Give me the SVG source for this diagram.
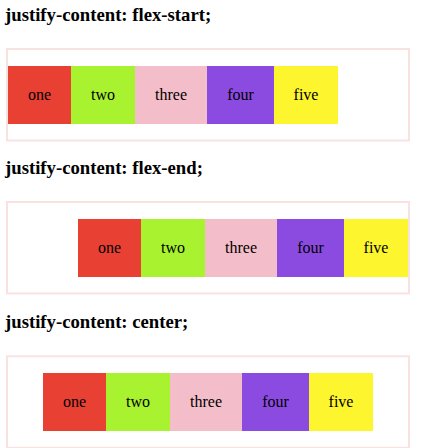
<svg xmlns="http://www.w3.org/2000/svg" width="429" height="448" viewBox="0 0 429 448">
<style>
.h{font-family:"Liberation Serif","Times New Roman",serif;font-weight:bold;font-size:18.72px;fill:#000}
.box{fill:none;stroke:#f9e3e1;stroke-width:2}
.t{font-family:"Liberation Serif","Times New Roman",serif;font-size:16px;fill:#000;text-anchor:middle}
.c1{fill:#e94034}.c2{fill:#a8f22f}.c3{fill:#f3bdc9}.c4{fill:#8c4be0}.c5{fill:#fdf62f}
</style>
<rect width="429" height="448" fill="#fff"/>
<g id="section-flex-start">
<text class="h" x="5" y="21">justify-content: flex-start;</text>
<rect class="box" x="7" y="49" width="402" height="91.5"/>
<g id="fs-one"><rect class="c1" x="8" y="66" width="63" height="58"/><text class="t" x="39.5" y="100">one</text></g>
<g id="fs-two"><rect class="c2" x="71" y="66" width="64" height="58"/><text class="t" x="103" y="100">two</text></g>
<g id="fs-three"><rect class="c3" x="135" y="66" width="72" height="58"/><text class="t" x="171" y="100">three</text></g>
<g id="fs-four"><rect class="c4" x="207" y="66" width="67" height="58"/><text class="t" x="240.5" y="100">four</text></g>
<g id="fs-five"><rect class="c5" x="274" y="66" width="64" height="58"/><text class="t" x="306" y="100">five</text></g>
</g>
<g id="section-flex-end">
<text class="h" x="5" y="174">justify-content: flex-end;</text>
<rect class="box" x="7" y="202" width="402" height="91.5"/>
<g id="fe-one"><rect class="c1" x="78" y="219" width="63" height="58"/><text class="t" x="109.5" y="253">one</text></g>
<g id="fe-two"><rect class="c2" x="141" y="219" width="64" height="58"/><text class="t" x="173" y="253">two</text></g>
<g id="fe-three"><rect class="c3" x="205" y="219" width="72" height="58"/><text class="t" x="241" y="253">three</text></g>
<g id="fe-four"><rect class="c4" x="277" y="219" width="67" height="58"/><text class="t" x="310.5" y="253">four</text></g>
<g id="fe-five"><rect class="c5" x="344" y="219" width="64" height="58"/><text class="t" x="376" y="253">five</text></g>
</g>
<g id="section-center">
<text class="h" x="5" y="328">justify-content: center;</text>
<rect class="box" x="7" y="356.3" width="402" height="91.5"/>
<g id="c-one"><rect class="c1" x="43" y="373" width="63" height="58"/><text class="t" x="74.5" y="407">one</text></g>
<g id="c-two"><rect class="c2" x="106" y="373" width="64" height="58"/><text class="t" x="138" y="407">two</text></g>
<g id="c-three"><rect class="c3" x="170" y="373" width="72" height="58"/><text class="t" x="206" y="407">three</text></g>
<g id="c-four"><rect class="c4" x="242" y="373" width="67" height="58"/><text class="t" x="275.5" y="407">four</text></g>
<g id="c-five"><rect class="c5" x="309" y="373" width="64" height="58"/><text class="t" x="341" y="407">five</text></g>
</g>
<g id="connectors"/>
</svg>
